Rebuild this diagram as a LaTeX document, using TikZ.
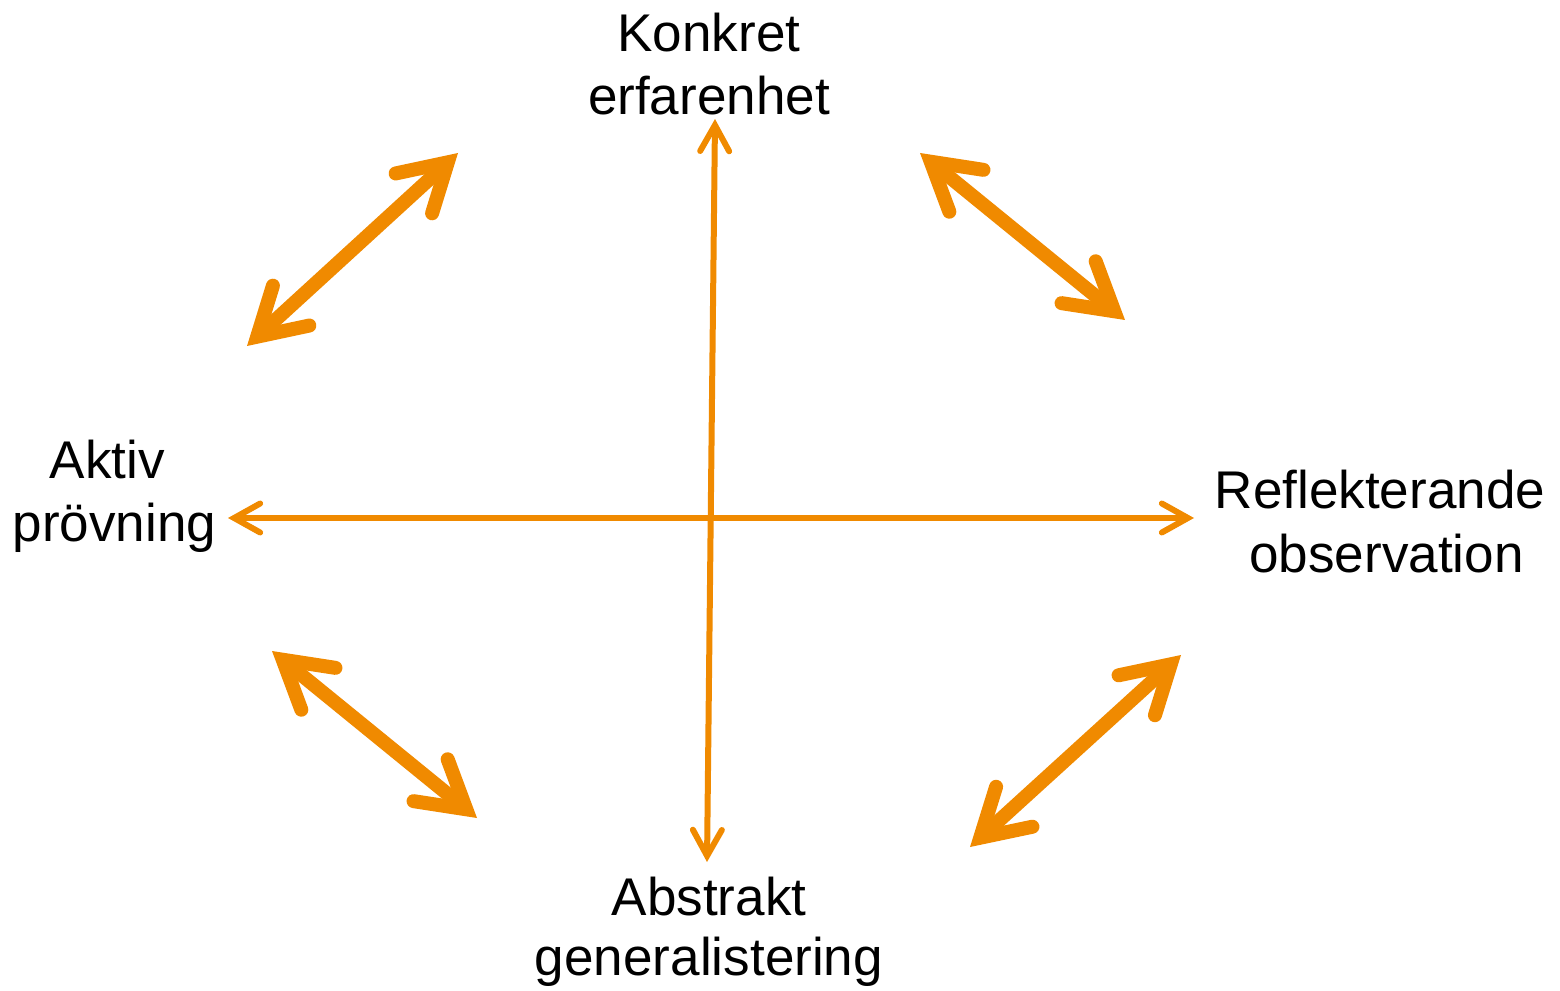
\documentclass[tikz,border=0pt]{standalone}
\usepackage{fontspec}
\setmainfont{Liberation Sans}
\usetikzlibrary{arrows.meta}
\definecolor{kolborange}{RGB}{240,138,0}
\tikzset{
  lbl/.style={anchor=base,inner sep=0pt,font=\fontsize{15.1pt}{18pt}\selectfont},
  axisarrow/.style={draw=kolborange,line width=0.6mm,
    {Straight Barb[length=2.6mm,width=2.9mm,line cap=round,line join=miter]}-{Straight Barb[length=2.6mm,width=2.9mm,line cap=round,line join=miter]}},
  cyclearrow/.style={draw=kolborange,line width=1.4mm,
    {Straight Barb[length=4.6mm,width=5.4mm,line cap=round,line join=miter]}-{Straight Barb[length=4.6mm,width=5.4mm,line cap=round,line join=miter]}}
}
\begin{document}
\begin{tikzpicture}[x=1cm,y=1cm]
\useasboundingbox (0,0) rectangle (15.60,-9.91);
% labels
\node[lbl] (k1) at (7.09,-0.52) {Konkret};
\node[lbl] (k2) at (7.09,-1.15) {erfarenhet};
\node[lbl] (a1) at (1.075,-4.78) {Aktiv};
\node[lbl] (a2) at (1.145,-5.41) {prövning};
\node[lbl] (r1) at (13.80,-5.08) {Reflekterande};
\node[lbl] (r2) at (13.865,-5.72) {observation};
\node[lbl] (b1) at (7.09,-9.155) {Abstrakt};
\node[lbl] (b2) at (7.09,-9.755) {generalistering};
% axis end points
\coordinate (vt) at (7.15,-1.19);
\coordinate (vb) at (7.07,-8.62);
\coordinate (hl) at (2.28,-5.18);
\coordinate (hr) at (11.94,-5.18);
\draw[axisarrow] (vb) -- (vt);
\draw[axisarrow] (hl) -- (hr);
% cycle arrows
\coordinate (d1a) at (2.47,-3.46);
\coordinate (d1b) at (4.58,-1.53);
\coordinate (d2a) at (9.20,-1.53);
\coordinate (d2b) at (11.25,-3.20);
\coordinate (d3a) at (2.72,-6.51);
\coordinate (d3b) at (4.77,-8.18);
\coordinate (d4a) at (9.70,-8.47);
\coordinate (d4b) at (11.81,-6.55);
\draw[cyclearrow] (d1a) -- (d1b);
\draw[cyclearrow] (d2a) -- (d2b);
\draw[cyclearrow] (d3a) -- (d3b);
\draw[cyclearrow] (d4a) -- (d4b);
\end{tikzpicture}
\end{document}
